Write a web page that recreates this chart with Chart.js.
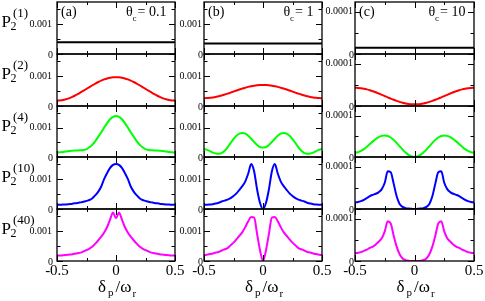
<!DOCTYPE html>
<html><head><meta charset="utf-8">
<script src="https://cdn.jsdelivr.net/npm/chart.js@4.4.1/dist/chart.umd.min.js"></script>
<style>
html,body{margin:0;padding:0;background:#fff;width:485px;height:301px;overflow:hidden}
#wrap{position:relative;width:485px;height:301px;background:#fff}
canvas{position:absolute;left:0;top:0}
</style></head><body>
<div id="wrap"></div>
<script>
// ---------- data ----------
const xs = [-0.5,-0.475,-0.45,-0.425,-0.4,-0.375,-0.35,-0.325,-0.3,-0.275,-0.25,-0.225,-0.2,-0.175,-0.15,-0.125,-0.1,-0.075,-0.05,-0.025,0,
  0.025,0.05,0.075,0.1,0.125,0.15,0.175,0.2,0.225,0.25,0.275,0.3,0.325,0.35,0.375,0.4,0.425,0.45,0.475,0.5];
const xEnds = [-0.5, 0.5];

const colTitles = ["0.1", "1", "10"];
const colLetters = ["(a)", "(b)", "(c)"];
const rowOrders = ["(1)", "(2)", "(4)", "(10)", "(40)"];
const yMajorLabelA = "0.001";
const yMajorLabelC = "0.0001";
const xTickLabels = ["-0.5", "0", "0.5"];
const xMajor = [-0.5, 0, 0.5];
const xMinor = [-0.25, 0.25];

// row 1 (constant)
const p1a = [3.9e-4, 3.9e-4];
const p1b = [3.5e-4, 3.5e-4];
const p1c = [1.45e-5, 1.45e-5];

// row 2 (red)
const p2a = [1.8e-4,1.85e-4,1.99e-4,2.23e-4,2.54e-4,2.94e-4,3.41e-4,3.93e-4,4.5e-4,5.09e-4,5.7e-4,6.31e-4,6.9e-4,7.47e-4,7.99e-4,8.46e-4,8.86e-4,9.17e-4,9.41e-4,9.55e-4,9.6e-4,
  9.55e-4,9.41e-4,9.17e-4,8.86e-4,8.46e-4,7.99e-4,7.47e-4,6.9e-4,6.31e-4,5.7e-4,5.09e-4,4.5e-4,3.93e-4,3.41e-4,2.94e-4,2.54e-4,2.23e-4,1.99e-4,1.85e-4,1.8e-4];
const p2b = [2.6e-4,2.63e-4,2.71e-4,2.84e-4,3.02e-4,3.24e-4,3.51e-4,3.8e-4,4.12e-4,4.46e-4,4.8e-4,5.14e-4,5.48e-4,5.8e-4,6.09e-4,6.36e-4,6.58e-4,6.76e-4,6.89e-4,6.97e-4,7.0e-4,
  6.97e-4,6.89e-4,6.76e-4,6.58e-4,6.36e-4,6.09e-4,5.8e-4,5.48e-4,5.14e-4,4.8e-4,4.46e-4,4.12e-4,3.8e-4,3.51e-4,3.24e-4,3.02e-4,2.84e-4,2.71e-4,2.63e-4,2.6e-4];
const p2c = [4.3e-5,4.28e-5,4.2e-5,4.09e-5,3.93e-5,3.73e-5,3.5e-5,3.24e-5,2.95e-5,2.65e-5,2.35e-5,2.05e-5,1.75e-5,1.47e-5,1.2e-5,0.97e-5,0.77e-5,0.61e-5,0.5e-5,0.42e-5,0.4e-5,
  0.42e-5,0.5e-5,0.61e-5,0.77e-5,0.97e-5,1.2e-5,1.47e-5,1.75e-5,2.05e-5,2.35e-5,2.65e-5,2.95e-5,3.24e-5,3.5e-5,3.73e-5,3.93e-5,4.09e-5,4.2e-5,4.28e-5,4.3e-5];

// row 3 (green)
const p4a = [1.5e-4,1.6e-4,1.7e-4,1.9e-4,2.0e-4,2.1e-4,2.2e-4,2.2e-4,2.3e-4,2.4e-4,2.7e-4,3.3e-4,4.2e-4,5.4e-4,6.9e-4,8.4e-4,10.0e-4,11.5e-4,12.8e-4,13.6e-4,13.9e-4,
  13.6e-4,12.8e-4,11.5e-4,10.0e-4,8.4e-4,6.9e-4,5.4e-4,4.2e-4,3.3e-4,2.7e-4,2.4e-4,2.3e-4,2.2e-4,2.2e-4,2.1e-4,2.0e-4,1.9e-4,1.7e-4,1.6e-4,1.5e-4];
const p4b = [2.7e-4,2.4e-4,2.0e-4,1.5e-4,1.2e-4,1.1e-4,1.3e-4,2.1e-4,3.3e-4,4.7e-4,6.1e-4,7.2e-4,7.9e-4,8.1e-4,7.9e-4,7.2e-4,6.2e-4,5.1e-4,4.1e-4,3.4e-4,3.2e-4,
  3.4e-4,4.1e-4,5.1e-4,6.2e-4,7.2e-4,7.9e-4,8.1e-4,7.9e-4,7.2e-4,6.1e-4,4.7e-4,3.3e-4,2.1e-4,1.3e-4,1.1e-4,1.2e-4,1.5e-4,2.0e-4,2.4e-4,2.7e-4];
const p4c = [1.05e-5,1.15e-5,1.45e-5,1.9e-5,2.48e-5,3.13e-5,3.77e-5,4.35e-5,4.81e-5,5.1e-5,5.2e-5,5.07e-5,4.71e-5,4.13e-5,3.41e-5,2.6e-5,1.79e-5,1.07e-5,0.5e-5,0.13e-5,0,
  0.13e-5,0.5e-5,1.07e-5,1.79e-5,2.6e-5,3.41e-5,4.13e-5,4.71e-5,5.07e-5,5.2e-5,5.1e-5,4.81e-5,4.35e-5,3.77e-5,3.13e-5,2.48e-5,1.9e-5,1.45e-5,1.15e-5,1.05e-5];

// row 4 (blue)
const p10a = [1.4e-4,1.4e-4,1.5e-4,1.5e-4,1.6e-4,1.7e-4,1.9e-4,2.0e-4,2.2e-4,2.4e-4,2.7e-4,3.0e-4,3.6e-4,4.6e-4,5.8e-4,7.5e-4,10.0e-4,12.0e-4,13.7e-4,14.7e-4,15.0e-4,
  14.7e-4,13.7e-4,12.0e-4,10.0e-4,7.5e-4,5.8e-4,4.6e-4,3.6e-4,3.0e-4,2.7e-4,2.4e-4,2.2e-4,2.0e-4,1.9e-4,1.7e-4,1.6e-4,1.5e-4,1.5e-4,1.4e-4,1.4e-4];
const p10b = [1.4e-4,1.4e-4,1.5e-4,1.6e-4,1.8e-4,2.1e-4,2.5e-4,2.8e-4,3.1e-4,3.6e-4,4.3e-4,5.2e-4,6.4e-4,7.6e-4,9.2e-4,11.8e-4,15.0e-4,12.5e-4,6.5e-4,2.0e-4,0,
  2.0e-4,6.5e-4,12.5e-4,15.0e-4,11.8e-4,9.2e-4,7.6e-4,6.4e-4,5.2e-4,4.3e-4,3.6e-4,3.1e-4,2.8e-4,2.5e-4,2.1e-4,1.8e-4,1.6e-4,1.5e-4,1.4e-4,1.4e-4];
const p10c = [1.55e-5,1.65e-5,1.85e-5,2.15e-5,2.6e-5,3.05e-5,3.35e-5,3.6e-5,4.0e-5,4.7e-5,6.2e-5,8.9e-5,8.7e-5,6.0e-5,3.0e-5,1.2e-5,0.5e-5,0.2e-5,0.1e-5,0.05e-5,0,
  0.05e-5,0.1e-5,0.2e-5,0.5e-5,1.2e-5,3.0e-5,6.0e-5,8.7e-5,8.9e-5,6.2e-5,4.7e-5,4.0e-5,3.6e-5,3.35e-5,3.05e-5,2.6e-5,2.15e-5,1.85e-5,1.65e-5,1.55e-5];

// row 5 (magenta)
const p40a = [1.8e-4,1.8e-4,1.9e-4,2.0e-4,2.1e-4,2.2e-4,2.4e-4,2.6e-4,2.8e-4,3.2e-4,3.6e-4,4.1e-4,4.8e-4,5.8e-4,6.9e-4,8.1e-4,9.5e-4,11.3e-4,13.8e-4,16.1e-4,14.2e-4,
  16.1e-4,13.8e-4,11.3e-4,9.5e-4,8.1e-4,6.9e-4,5.8e-4,4.8e-4,4.1e-4,3.6e-4,3.2e-4,2.8e-4,2.6e-4,2.4e-4,2.2e-4,2.1e-4,2.0e-4,1.9e-4,1.8e-4,1.8e-4];
const p40b = [2.0e-4,2.1e-4,2.3e-4,2.5e-4,2.8e-4,3.0e-4,3.5e-4,3.9e-4,4.3e-4,5.2e-4,6.1e-4,7.2e-4,8.4e-4,9.6e-4,11.3e-4,13.2e-4,14.6e-4,14.4e-4,9.0e-4,3.5e-4,0,
  3.5e-4,9.0e-4,14.4e-4,14.6e-4,13.2e-4,11.3e-4,9.6e-4,8.4e-4,7.2e-4,6.1e-4,5.2e-4,4.3e-4,3.9e-4,3.5e-4,3.0e-4,2.8e-4,2.5e-4,2.3e-4,2.1e-4,2.0e-4];
const p40c = [1.85e-5,1.95e-5,2.1e-5,2.4e-5,2.7e-5,3.1e-5,3.4e-5,3.9e-5,4.6e-5,5.4e-5,7.0e-5,9.4e-5,8.9e-5,6.0e-5,3.4e-5,1.6e-5,0.6e-5,0.2e-5,0.05e-5,0,0,
  0,0.05e-5,0.2e-5,0.6e-5,1.6e-5,3.4e-5,6.0e-5,8.9e-5,9.4e-5,7.0e-5,5.4e-5,4.6e-5,3.9e-5,3.4e-5,3.1e-5,2.7e-5,2.4e-5,2.1e-5,1.95e-5,1.85e-5];

const series = [
  [p1a, p1b, p1c],
  [p2a, p2b, p2c],
  [p4a, p4b, p4c],
  [p10a, p10b, p10c],
  [p40a, p40b, p40c]
];
const rowColors = ['#000000', '#ff0000', '#00ff00', '#0000ff', '#ff00ff'];

// ---------- layout ----------
const W = 485, H = 301;
const colL = [57, 204, 355];
const colR = [175, 322, 474];
const rowT = [2, 54, 106, 157, 209];
const rowB = [54, 106, 157, 209, 261];
const yMaxCol = [0.00173, 0.00173, 0.000123];
const labelGap = [5, 2, 2];
const FF = '"Times New Roman", Times, "Liberation Serif", serif';
const f = (px) => px + 'px ' + FF;

const panelPlugin = {
  id: 'panelDecor',
  afterDatasetsDraw(chart) {
    const o = chart.options.plugins.panelDecor;
    const col = o.col, row = o.row;
    const ctx = chart.ctx, a = chart.chartArea;
    const xS = chart.scales.x, yS = chart.scales.y;
    ctx.save();
    ctx.strokeStyle = '#000';
    ctx.fillStyle = '#000';
    ctx.lineWidth = 1;
    const seg = (x1, y1, x2, y2) => { ctx.beginPath(); ctx.moveTo(x1, y1); ctx.lineTo(x2, y2); ctx.stroke(); };
    for (const v of xMajor) { const p = Math.round(xS.getPixelForValue(v)) + 0.5; seg(p, a.bottom, p, a.bottom - 6); seg(p, a.top, p, a.top + 6); }
    for (const v of xMinor) { const p = Math.round(xS.getPixelForValue(v)) + 0.5; seg(p, a.bottom, p, a.bottom - 3); seg(p, a.top, p, a.top + 3); }
    const yMaj = col === 2 ? [0, 0.0001] : [0, 0.001];
    const yMin = col === 2 ? [0.00005] : [0.0005, 0.0015];
    for (const v of yMaj) { const p = Math.round(yS.getPixelForValue(v)) + 0.5; seg(a.left, p, a.left + 6, p); seg(a.right, p, a.right - 6, p); }
    for (const v of yMin) { if (v > yS.max) continue; const p = Math.round(yS.getPixelForValue(v)) + 0.5; seg(a.left, p, a.left + 3.5, p); seg(a.right, p, a.right - 3.5, p); }
    ctx.lineWidth = 1.3;
    ctx.strokeRect(a.left, a.top, a.right - a.left, a.bottom - a.top);

    ctx.font = f(10);
    ctx.textAlign = 'right';
    ctx.textBaseline = 'middle';
    const tickY = yS.getPixelForValue(col === 2 ? 0.0001 : 0.001);
    ctx.fillText(col === 2 ? yMajorLabelC : yMajorLabelA, a.left - labelGap[col], tickY);
    ctx.fillText('0', a.left - labelGap[col] + 1, yS.getPixelForValue(0) + 1);

    if (col === 0) {
      ctx.textAlign = 'left';
      ctx.textBaseline = 'alphabetic';
      ctx.font = f(17);
      ctx.fillText('P', 1.5, tickY + 3);
      ctx.font = f(12);
      ctx.fillText('2', 10.5, tickY + 6);
      ctx.font = f(13);
      ctx.fillText(rowOrders[row], 13, tickY - 7);
    }

    if (row === 0) {
      ctx.textAlign = 'left';
      ctx.textBaseline = 'alphabetic';
      ctx.font = f(14);
      ctx.fillText(colLetters[col], a.left + 4, 16);
      const rest = '= ' + colTitles[col];
      ctx.font = f(14);
      const wTh = ctx.measureText('\u03b8').width;
      const wRest = ctx.measureText(rest).width;
      ctx.font = f(9);
      const wC = ctx.measureText('c').width;
      const xEnd = a.right - 8.5;
      const x0 = xEnd - wRest - wC - wTh - 1;
      ctx.font = f(14);
      ctx.fillText('\u03b8', x0, 16);
      ctx.font = f(9);
      ctx.fillText('c', x0 + wTh, 20.5);
      ctx.font = f(14);
      ctx.fillText(rest, x0 + wTh + wC + 1, 16);
    }

    if (row === 4) {
      ctx.font = f(15);
      ctx.textAlign = 'center';
      ctx.textBaseline = 'alphabetic';
      xMajor.forEach((v, i) => ctx.fillText(xTickLabels[i], xS.getPixelForValue(v), a.bottom + 14));
      ctx.textAlign = 'left';
      ctx.font = f(17);
      const wd = ctx.measureText('\u03b4').width;
      const ws = ctx.measureText('/\u03c9').width;
      ctx.font = f(11);
      const wp = ctx.measureText('p').width;
      const wr = ctx.measureText('r').width;
      const total = wd + 2 + wp + 2 + ws + 1 + wr;
      let x = (a.left + a.right) / 2 - total / 2 + 1;
      ctx.font = f(17);
      ctx.fillText('\u03b4', x, 292); x += wd + 2;
      ctx.font = f(11);
      ctx.fillText('p', x, 296); x += wp + 2;
      ctx.font = f(17);
      ctx.fillText('/\u03c9', x, 292); x += ws + 1;
      ctx.font = f(11);
      ctx.fillText('r', x, 297);
    }
    ctx.restore();
  }
};

const wrap = document.getElementById('wrap');
for (let r = 0; r < 5; r++) {
  for (let c = 0; c < 3; c++) {
    const cv = document.createElement('canvas');
    cv.width = W; cv.height = H;
    cv.style.width = W + 'px'; cv.style.height = H + 'px';
    wrap.appendChild(cv);
    const ys = series[r][c];
    const xArr = r === 0 ? xEnds : xs;
    new Chart(cv, {
      type: 'line',
      data: {
        datasets: [{
          data: xArr.map((x, i) => ({ x: x, y: ys[i] })),
          borderColor: rowColors[r],
          borderWidth: 2,
          pointRadius: 0,
          cubicInterpolationMode: 'monotone',
          fill: false
        }]
      },
      options: {
        responsive: false,
        animation: false,
        devicePixelRatio: 1,
        events: [],
        layout: { padding: { left: colL[c], right: W - colR[c], top: rowT[r], bottom: H - rowB[r] } },
        scales: {
          x: { type: 'linear', min: -0.5, max: 0.5, display: false },
          y: { type: 'linear', min: 0, max: yMaxCol[c], display: false }
        },
        plugins: { legend: { display: false }, tooltip: { enabled: false }, panelDecor: { col: c, row: r } }
      },
      plugins: [panelPlugin]
    });
  }
}
</script>
</body></html>
